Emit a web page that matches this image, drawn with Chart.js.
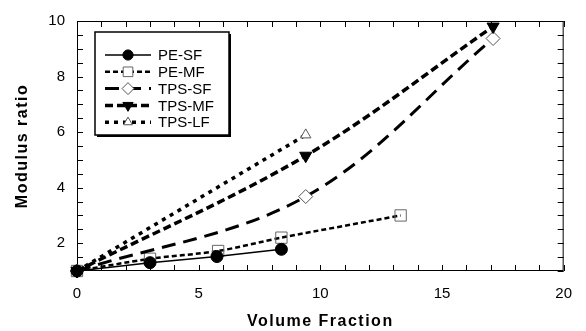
<!DOCTYPE html>
<html><head><meta charset="utf-8">
<script src="https://cdn.jsdelivr.net/npm/chart.js@4.4.1/dist/chart.umd.min.js"></script>
<style>html,body{margin:0;padding:0;background:#fff}</style>
</head><body>
<canvas id="c" width="586" height="331"></canvas>
<script>
// ---- data ----
const seriesNames = ['PE-SF', 'PE-MF', 'TPS-SF', 'TPS-MF', 'TPS-LF'];
const peSF_x  = [0, 3, 5.75, 8.4];
const peSF_y  = [1, 1.3, 1.52, 1.78];
const peMF_x  = [0, 3, 5.8, 8.4, 13.3];
const peMF_y  = [1, 1.44, 1.72, 2.2, 3.0];
const tpsSF_x = [0, 9.4, 17.1];
const tpsSF_y = [1, 3.68, 9.37];
const tpsMF_x = [0, 9.4, 17.1];
const tpsMF_y = [1, 5.15, 9.8];
const tpsLF_x = [0, 9.4];
const tpsLF_y = [1, 5.9];
const xTickLabels = [0, 5, 10, 15, 20];
const yTickLabels = [2, 4, 6, 8, 10];

const pts = (xs, ys) => xs.map((x, i) => ({x: x, y: ys[i]}));
const FONT = "'Liberation Sans', Arial, sans-serif";

const datasets = [
  {label: seriesNames[0], data: pts(peSF_x, peSF_y), borderColor: '#000', borderWidth: 1.5, borderDash: [],
   pointStyle: 'circle', pointRadius: 6, pointBackgroundColor: '#000', pointBorderColor: '#000', pointBorderWidth: 1, tension: 0},
  {label: seriesNames[1], data: pts(peMF_x, peMF_y), borderColor: '#000', borderWidth: 2.5, borderDash: [5, 3],
   pointStyle: 'rect', pointRadius: 8, pointBackgroundColor: 'rgba(255,255,255,0)', pointBorderColor: '#666', pointBorderWidth: 1, tension: 0.3},
  {label: seriesNames[2], data: pts(tpsSF_x, tpsSF_y), borderColor: '#000', borderWidth: 3, borderDash: [14, 8],
   pointStyle: 'rectRot', pointRadius: 7, pointBackgroundColor: '#fff', pointBorderColor: '#555', pointBorderWidth: 1, tension: 0.35},
  {label: seriesNames[3], data: pts(tpsMF_x, tpsMF_y), borderColor: '#000', borderWidth: 3.5, borderDash: [8, 4],
   pointStyle: 'triangle', pointRotation: 180, pointRadius: 7, pointBackgroundColor: '#000', pointBorderColor: '#000', pointBorderWidth: 1, tension: 0.35},
  {label: seriesNames[4], data: pts(tpsLF_x, tpsLF_y), borderColor: '#000', borderWidth: 3.5, borderDash: [4, 5],
   pointStyle: 'triangle', pointRadius: 6, pointBackgroundColor: '#fff', pointBorderColor: '#555', pointBorderWidth: 1, tension: 0}
];
datasets.forEach((d, i) => { d.order = i === 0 ? 0 : 5 - i; d.clip = false; d.fill = false; });

const framePlugin = {
  id: 'frame',
  beforeDatasetsDraw(chart) {
    const {ctx, chartArea: a, scales: {x, y}} = chart;
    ctx.save();
    ctx.strokeStyle = '#000';
    ctx.lineWidth = 1;
    ctx.strokeRect(a.left + 0.5, a.top + 0.5, a.right - a.left - 1, a.bottom - a.top - 1);
    const L = 6;
    ctx.beginPath();
    x.ticks.forEach(t => {
      const px = Math.round(x.getPixelForValue(t.value)) + 0.5;
      ctx.moveTo(px, a.bottom); ctx.lineTo(px, a.bottom - L);
      ctx.moveTo(px, a.top); ctx.lineTo(px, a.top + L);
    });
    y.ticks.forEach(t => {
      const py = Math.round(y.getPixelForValue(t.value)) + 0.5;
      ctx.moveTo(a.left, py); ctx.lineTo(a.left + L, py);
      ctx.moveTo(a.right, py); ctx.lineTo(a.right - L, py);
    });
    ctx.stroke();
    ctx.restore();
  }
};

const legendPlugin = {
  id: 'boxLegend',
  afterDraw(chart) {
    const ctx = chart.ctx;
    const bx = 95, by = 32, bw = 134, bh = 103;
    ctx.save();
    ctx.fillStyle = '#000';
    ctx.fillRect(bx + 2, by + 2, bw, bh);
    ctx.fillStyle = '#fff';
    ctx.fillRect(bx, by, bw, bh);
    ctx.strokeStyle = '#000';
    ctx.lineWidth = 1.5;
    ctx.strokeRect(bx, by, bw, bh);
    chart.data.datasets.forEach((d, i) => {
      const ry = by + 23 + i * 16.8;
      ctx.save();
      ctx.strokeStyle = d.borderColor;
      ctx.lineWidth = d.borderWidth;
      ctx.setLineDash(d.borderDash);
      ctx.beginPath();
      ctx.moveTo(bx + 10, ry); ctx.lineTo(bx + 56, ry);
      ctx.stroke();
      ctx.setLineDash([]);
      ctx.fillStyle = d.pointBackgroundColor === 'rgba(255,255,255,0)' ? '#fff' : d.pointBackgroundColor;
      ctx.strokeStyle = d.pointBorderColor;
      ctx.lineWidth = d.pointBorderWidth;
      Chart.helpers.drawPoint(ctx, {pointStyle: d.pointStyle, radius: d.pointRadius * 0.85,
        rotation: d.pointRotation || 0, borderWidth: d.pointBorderWidth}, bx + 33, ry);
      ctx.restore();
      ctx.fillStyle = '#000';
      ctx.font = '15px ' + FONT;
      ctx.textBaseline = 'middle';
      ctx.textAlign = 'left';
      ctx.fillText(d.label, bx + 63, ry + 1);
    });
    ctx.restore();
  }
};

function spacedTitle(s) {
  if (s._spaced) return;
  s._spaced = true;
  const orig = s.drawTitle;
  s.drawTitle = function () {
    const c = this.ctx;
    const prev = c.letterSpacing;
    c.letterSpacing = '1.5px';
    orig.apply(this, arguments);
    c.letterSpacing = prev || '0px';
  };
}

new Chart(document.getElementById('c'), {
  type: 'line',
  data: {datasets: datasets},
  plugins: [framePlugin, legendPlugin],
  options: {
    responsive: false,
    devicePixelRatio: 1,
    animation: false,
    layout: {padding: {left: 0, right: 15, top: 15, bottom: 0}},
    plugins: {legend: {display: false}, tooltip: {enabled: false}},
    scales: {
      x: {
        type: 'linear', min: 0, max: 20,
        afterFit(s) { s.height = 60; spacedTitle(s); },
        grid: {display: false, drawTicks: false},
        border: {display: false},
        ticks: {stepSize: 1, autoSkip: false, maxRotation: 0, padding: 14, color: '#000',
          font: {family: FONT, size: 15},
          callback: v => xTickLabels.includes(v) ? String(v) : ''},
        title: {display: true, text: 'Volume Fraction', color: '#000',
          font: {family: FONT, size: 16, weight: 'bold'}, padding: {top: 1, bottom: 0}}
      },
      y: {
        type: 'linear', min: 1, max: 10,
        afterFit(s) { s.width = 77; spacedTitle(s); },
        grid: {display: false, drawTicks: false},
        border: {display: false},
        ticks: {stepSize: 0.5, autoSkip: false, padding: 12, color: '#000',
          font: {family: FONT, size: 15},
          callback: v => yTickLabels.includes(v) ? String(v) : ''},
        title: {display: true, text: 'Modulus ratio', color: '#000',
          font: {family: FONT, size: 16, weight: 'bold'}, padding: {top: 13, bottom: 0}}
      }
    }
  }
});
</script>
</body></html>
